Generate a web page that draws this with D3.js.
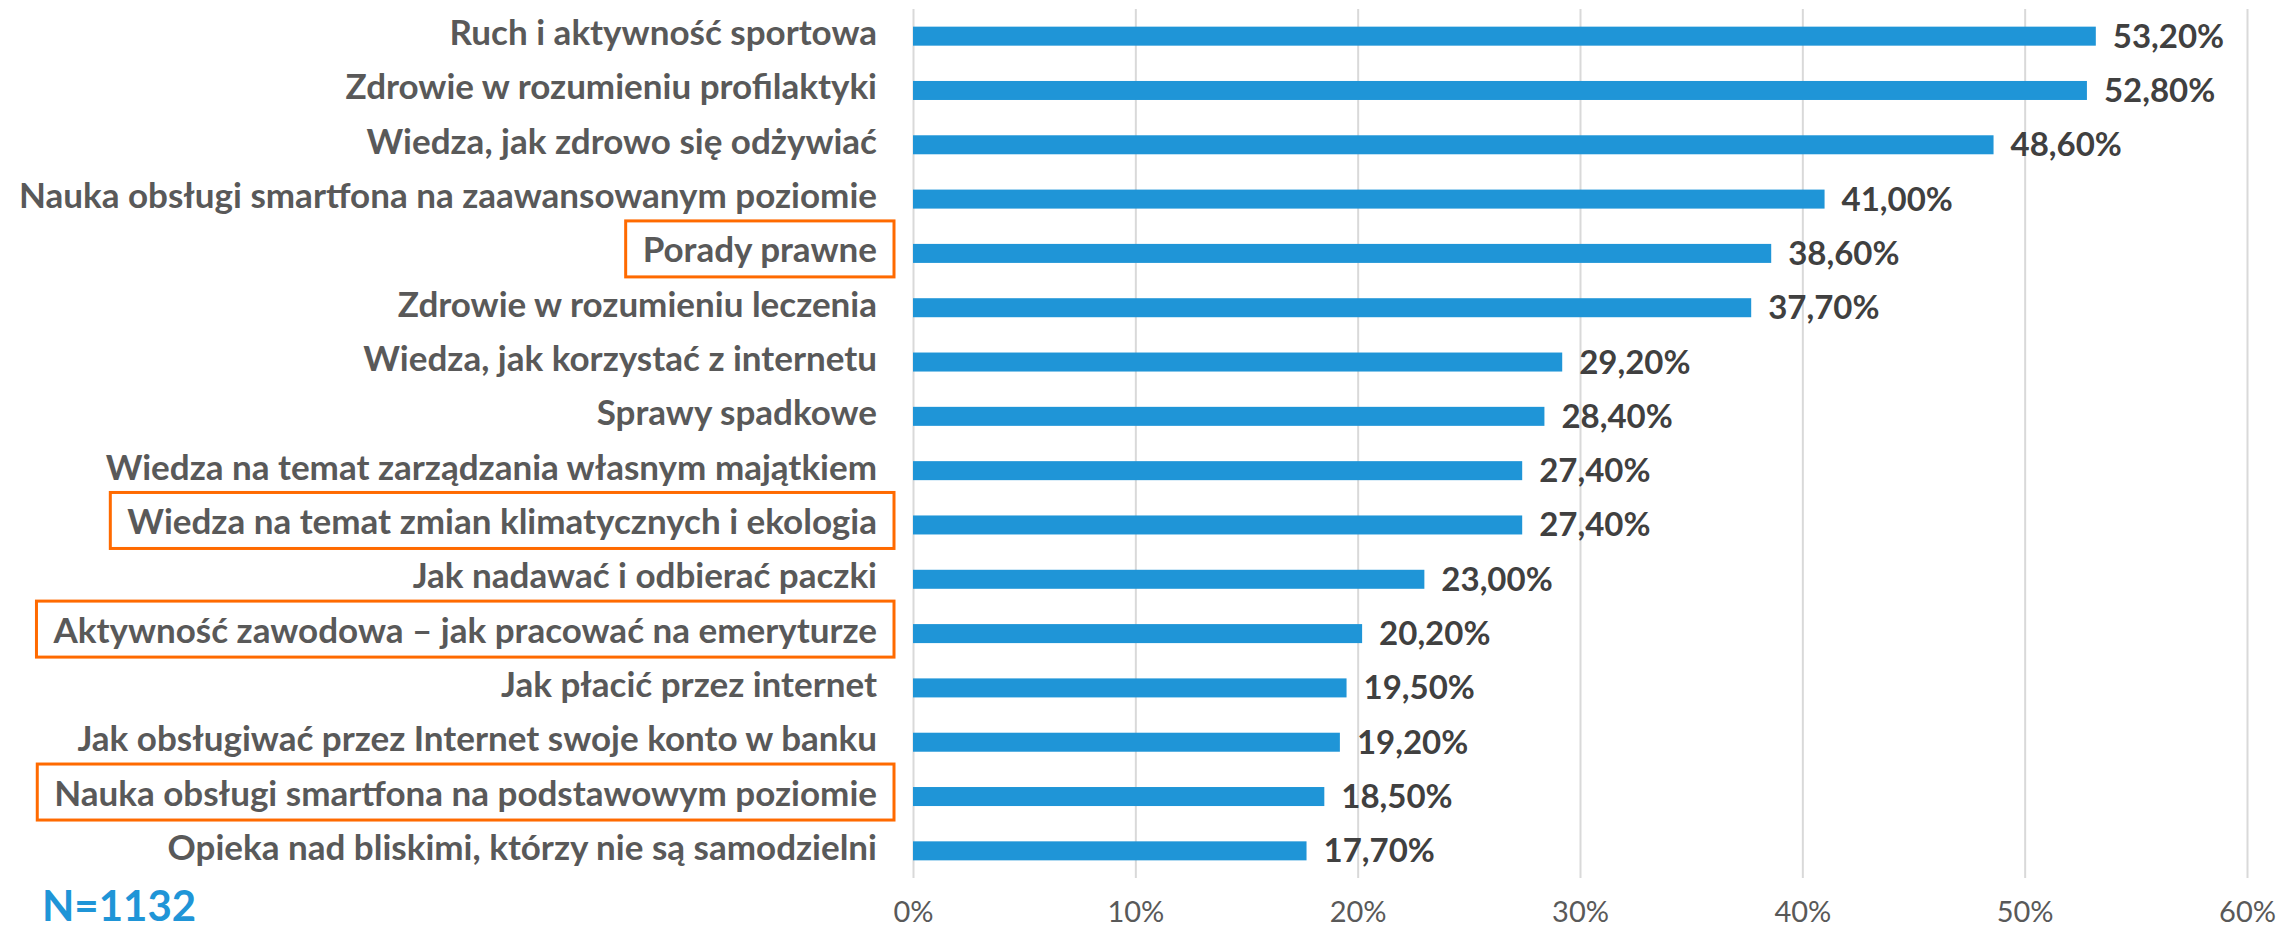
<!DOCTYPE html>
<html>
<head>
<meta charset="utf-8">
<script src="https://cdn.jsdelivr.net/npm/d3@7"></script>
<style>
  body { margin: 0; background: #fff; }
  svg { display: block; }
</style>
</head>
<body>
<svg id="chart" width="2277" height="929"></svg>
<script>
// survey answers, sorted as in the source
const categories = [
    "Ruch i aktywność sportowa",
    "Zdrowie w rozumieniu profilaktyki",
    "Wiedza, jak zdrowo się odżywiać",
    "Nauka obsługi smartfona na zaawansowanym poziomie",
    "Porady prawne",
    "Zdrowie w rozumieniu leczenia",
    "Wiedza, jak korzystać z internetu",
    "Sprawy spadkowe",
    "Wiedza na temat zarządzania własnym majątkiem",
    "Wiedza na temat zmian klimatycznych i ekologia",
    "Jak nadawać i odbierać paczki",
    "Aktywność zawodowa – jak pracować na emeryturze",
    "Jak płacić przez internet",
    "Jak obsługiwać przez Internet swoje konto w banku",
    "Nauka obsługi smartfona na podstawowym poziomie",
    "Opieka nad bliskimi, którzy nie są samodzielni"
];
const values = [53.2, 52.8, 48.6, 41.0, 38.6, 37.7, 29.2, 28.4, 27.4, 27.4, 23.0, 20.2, 19.5, 19.2, 18.5, 17.7];
const highlighted = [
    "Porady prawne",
    "Wiedza na temat zmian klimatycznych i ekologia",
    "Aktywność zawodowa – jak pracować na emeryturze",
    "Nauka obsługi smartfona na podstawowym poziomie"
];
const ticks = [0, 10, 20, 30, 40, 50, 60];
const sampleNote = "N=1132";

const data = categories.map((c, i) => ({cat: c, val: values[i]}));

const svg = d3.select("#chart");
const x = d3.scaleLinear().domain([0, 60]).range([913, 2247]);
const y = d3.scaleBand().domain(categories).range([9, 878]).paddingInner(0.65).paddingOuter(0.325);

const pl = d3.formatLocale({decimal: ",", thousands: " ", grouping: [3], currency: ["", " zł"]});
const fmt = pl.format(".2f");

// gridlines + tick labels
const axis = svg.append("g")
    .attr("transform", "translate(0,878)")
    .call(d3.axisBottom(x).tickValues(ticks).tickSizeInner(-869).tickSizeOuter(0).tickFormat(d => d + "%"));
axis.select(".domain").remove();
axis.selectAll(".tick line").attr("stroke", "#d9d9d9").attr("stroke-width", 2);
axis.selectAll(".tick text")
    .attr("y", 44).attr("dy", null)
    .attr("fill", "#595959")
    .style("font-family", "Lato, sans-serif")
    .style("font-size", "29px");

// bars
svg.append("g").selectAll("rect")
    .data(data)
    .join("rect")
    .attr("x", x(0))
    .attr("y", d => y(d.cat))
    .attr("width", d => x(d.val) - x(0))
    .attr("height", y.bandwidth())
    .attr("fill", "#1f95d7");

// value labels
svg.append("g").selectAll("text")
    .data(data)
    .join("text")
    .attr("x", d => x(d.val) + 17)
    .attr("y", d => y(d.cat) + y.bandwidth() / 2 + 11.5)
    .attr("fill", "#404040")
    .style("font-family", "Lato, sans-serif")
    .style("font-weight", "bold")
    .style("font-size", "33px")
    .text(d => fmt(d.val) + "%");

// category labels
const labels = svg.append("g").selectAll("text")
    .data(data)
    .join("text")
    .attr("x", 877)
    .attr("y", d => y(d.cat) + y.bandwidth() / 2 + 9)
    .attr("text-anchor", "end")
    .attr("fill", "#595959")
    .style("font-family", "Lato, sans-serif")
    .style("font-weight", "bold")
    .style("font-size", "35px")
    .text(d => d.cat);

// orange frames round the highlighted answers
labels.filter(d => highlighted.includes(d.cat)).each(function(d) {
    const w = this.getComputedTextLength();
    const cy = y(d.cat) + y.bandwidth() / 2 - 4.5;
    svg.append("rect")
        .attr("x", 877 - w - 17)
        .attr("y", cy - 28)
        .attr("width", w + 34)
        .attr("height", 56)
        .attr("fill", "none")
        .attr("stroke", "#ff6a00")
        .attr("stroke-width", 3);
});

svg.append("text")
    .attr("x", 42)
    .attr("y", 921)
    .attr("fill", "#1f95d7")
    .style("font-family", "Lato, sans-serif")
    .style("font-weight", "bold")
    .style("font-size", "42px")
    .text(sampleNote);
</script>
</body>
</html>
